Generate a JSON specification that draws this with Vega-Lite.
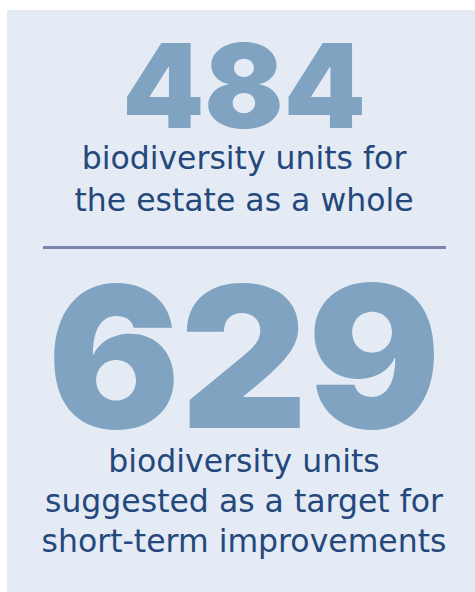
{
  "$schema": "https://vega.github.io/schema/vega-lite/v6.json",
  "autosize": {"type": "fit", "contains": "padding"},
  "width": 475,
  "height": 592,
  "padding": {"left": 7, "top": 10, "right": 0, "bottom": 0},
  "background": "#ffffff",
  "config": {"view": {"stroke": null, "fill": "#e4ebf4"}},
  "datasets": {
    "texts": [
      {"block": "first", "kind": "number", "text": "484", "pos": 20.27},
      {"block": "first", "kind": "caption", "text": "biodiversity units for", "pos": 27.32},
      {"block": "first", "kind": "caption", "text": "the estate as a whole", "pos": 34.54},
      {"block": "second", "kind": "number", "text": "629", "pos": 71.82},
      {"block": "second", "kind": "caption", "text": "biodiversity units", "pos": 79.38},
      {"block": "second", "kind": "caption", "text": "suggested as a target for", "pos": 86.25},
      {"block": "second", "kind": "caption", "text": "short-term improvements", "pos": 93.13}
    ],
    "divider": [{"from": 7.69, "to": 93.8, "pos": 40.81}]
  },
  "layer": [
    {
      "data": {"name": "divider"},
      "mark": {"type": "rule", "color": "#7b85b0", "strokeWidth": 3},
      "encoding": {
        "x": {"field": "from", "type": "quantitative", "scale": {"domain": [0, 100]}, "axis": null},
        "x2": {"field": "to"},
        "y": {"field": "pos", "type": "quantitative", "scale": {"domain": [0, 100], "reverse": true}, "axis": null}
      }
    },
    {
      "data": {"name": "texts"},
      "transform": [{"filter": "datum.kind === 'number' && datum.block === 'first'"}],
      "mark": {"type": "text", "font": "Inter", "fontWeight": 900, "fontSize": 117, "color": "#7fa3c1", "baseline": "alphabetic", "align": "center"},
      "encoding": {
        "x": {"datum": 50.64, "type": "quantitative", "scale": {"domain": [0, 100]}, "axis": null},
        "y": {"field": "pos", "type": "quantitative", "scale": {"domain": [0, 100], "reverse": true}, "axis": null},
        "text": {"field": "text"}
      }
    },
    {
      "data": {"name": "texts"},
      "transform": [{"filter": "datum.kind === 'number' && datum.block === 'second'"}],
      "mark": {"type": "text", "font": "Inter", "fontWeight": 900, "fontSize": 197, "color": "#7fa3c1", "baseline": "alphabetic", "align": "center"},
      "encoding": {
        "x": {"datum": 50.64, "type": "quantitative", "scale": {"domain": [0, 100]}, "axis": null},
        "y": {"field": "pos", "type": "quantitative", "scale": {"domain": [0, 100], "reverse": true}, "axis": null},
        "text": {"field": "text"}
      }
    },
    {
      "data": {"name": "texts"},
      "transform": [{"filter": "datum.kind === 'caption'"}],
      "mark": {"type": "text", "font": "DejaVu Sans", "fontWeight": 400, "fontSize": 31.5, "color": "#25487c", "baseline": "alphabetic", "align": "center"},
      "encoding": {
        "x": {"datum": 50.64, "type": "quantitative", "scale": {"domain": [0, 100]}, "axis": null},
        "y": {"field": "pos", "type": "quantitative", "scale": {"domain": [0, 100], "reverse": true}, "axis": null},
        "text": {"field": "text"}
      }
    }
  ]
}
